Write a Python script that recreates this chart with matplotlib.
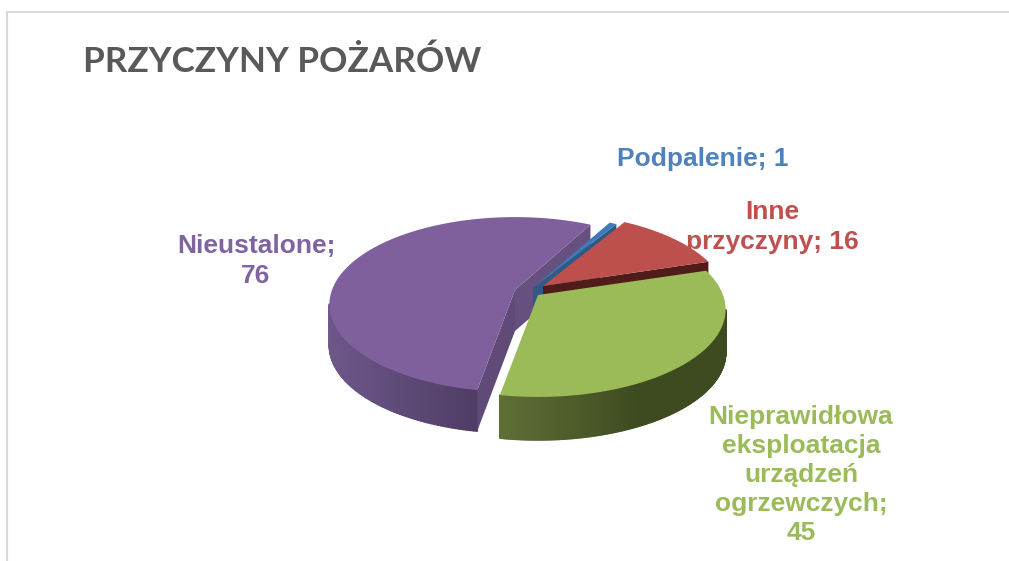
import numpy as np
import matplotlib
matplotlib.use("Agg")
import matplotlib.pyplot as plt
from matplotlib.collections import PolyCollection
from matplotlib.colors import to_rgb

title = "PRZYCZYNY POŻARÓW"
causes = ["Podpalenie", "Inne przyczyny", "Nieprawidłowa eksploatacja urządzeń ogrzewczych", "Nieustalone"]
values = [1, 16, 45, 76]
label_texts = ["Podpalenie; 1", "Inne\nprzyczyny; 16",
               "Nieprawidłowa\neksploatacja\nurządzeń\nogrzewczych;\n45", "Nieustalone;\n76"]

# styling per slice
top_colors = ["#3e7ab5", "#bd4f4c", "#9bbb59", "#7f609d"]
text_colors = ["#4f81bd", "#c0504d", "#9bbb59", "#8064a2"]
edge_colors = ["#2f5a88", "#4f1c1a", "#3f4b20", "#5f4a78"]
wall_left = ["#2f5a88", "#4f1c1a", "#606f35", "#6d5789"]
wall_right = ["#2f5a88", "#4f1c1a", "#3e4a20", "#4f3d65"]
tips = [(533, 288), (543, 286), (538, 295), (515, 290)]
radii = [186, 182, 185, 183]
depths = [41, 41, 43, 41]
label_pos = [(703, 159), (772, 227), (801, 475), (256, 261)]

# pie shape in pixels, far side is smaller than near side
RY, K = 85, 0.166
START = 61.8


def project(i, ang):
    a = np.radians(ang)
    w = 1 + K * np.sin(a)
    return tips[i][0] + radii[i] * np.cos(a) / w, tips[i][1] - RY * np.sin(a) / w


fig = plt.figure(figsize=(10.09, 5.61), dpi=100)
ax = fig.add_axes([0, 0, 1, 1])
ax.set_xlim(0, 1009)
ax.set_ylim(561, 0)
ax.axis("off")

# chart frame
ax.plot([7, 7, 1009], [561, 12, 12], color="#d9d9d9", lw=1.5)

# slice angles, clockwise from START
spans = np.array(values) / sum(values) * 360
ends = START - np.cumsum(spans)
starts = ends + spans
slices = []
for i in range(len(values)):
    angs = np.linspace(starts[i], ends[i], 200)
    slices.append(project(i, angs))


def radial_wall(i, x, y, color, z):
    tx, ty = tips[i]
    d = depths[i]
    ax.fill([tx, x, x, tx], [ty, y, y + d, ty + d], color=color, lw=0, zorder=z)


def outer_wall(i, z):
    xs, ys = slices[i]
    d = depths[i]
    front = np.sin(np.radians(np.linspace(starts[i], ends[i], 200))) < -K
    c0, c1 = np.array(to_rgb(wall_left[i])), np.array(to_rgb(wall_right[i]))
    quads, cols = [], []
    lo, hi = xs[front].min(), xs[front].max()
    for j in range(len(xs) - 1):
        if not front[j]:
            continue
        quads.append([(xs[j], ys[j]), (xs[j + 1], ys[j + 1]),
                      (xs[j + 1], ys[j + 1] + d), (xs[j], ys[j] + d)])
        t = min(1, (xs[j] - lo) / (hi - lo) * (1.6 if i == 2 else 1))
        cols.append(c0 + (c1 - c0) * t)
    ax.add_collection(PolyCollection(quads, facecolors=cols, edgecolors=cols, lw=1.2, zorder=z))


# purple at the back, then blue, red, green on top
outer_wall(3, 1)
xs, ys = slices[3]
radial_wall(3, xs[0], ys[0], "#5f4a78", 2)
radial_wall(3, xs[-1], ys[-1], "#66507f", 2)
ax.fill(np.r_[tips[3][0], xs], np.r_[tips[3][1], ys], color=top_colors[3], lw=0, zorder=3)

xs, ys = slices[0]
radial_wall(0, xs[-1], ys[-1], edge_colors[0], 4)
ax.fill(np.r_[tips[0][0], xs], np.r_[tips[0][1], ys], color=top_colors[0], lw=0, zorder=5)

xs, ys = slices[1]
radial_wall(1, xs[-1], ys[-1], edge_colors[1], 6)
ax.fill(np.r_[tips[1][0], xs], np.r_[tips[1][1], ys], color=top_colors[1], lw=0, zorder=7)

outer_wall(2, 8)
xs, ys = slices[2]
ax.fill(np.r_[tips[2][0], xs], np.r_[tips[2][1], ys], color=top_colors[2], lw=0, zorder=9)

# texts
ax.text(83, 62, title, fontsize=25.3, fontweight="bold", family="Lato", color="#595959",
        ha="left", va="center", zorder=12)
for i, txt in enumerate(label_texts):
    ax.text(label_pos[i][0], label_pos[i][1], txt, fontsize=19, fontweight="bold",
            family="Liberation Sans", color=text_colors[i], ha="center", va="center",
            linespacing=1.27, zorder=12)

fig.savefig("out.png", dpi=100)
